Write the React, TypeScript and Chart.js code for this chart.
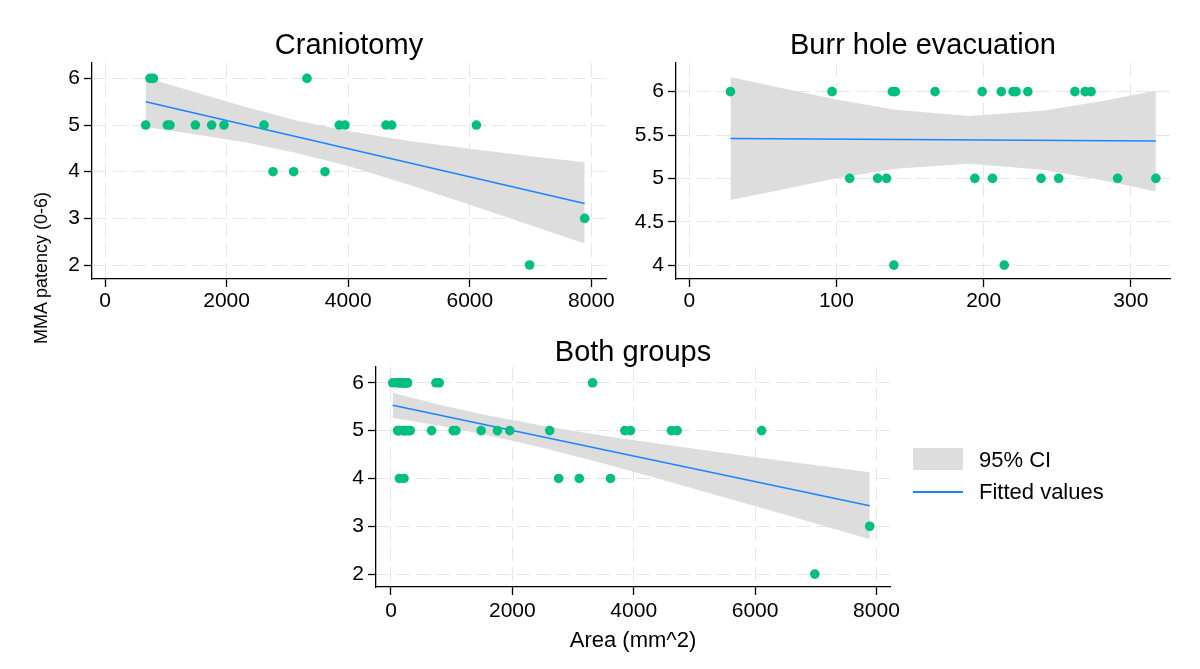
import React, { useEffect, useRef } from 'react';
import { Chart, registerables } from 'chart.js';

Chart.register(...registerables);

const FONT = 'Arial, "Liberation Sans", Helvetica, sans-serif';

// ---------- Data ----------
// Craniotomy group
const craniArea = [740, 795, 3322, 669, 1025, 1069, 1486, 1754, 1957, 2615, 3854, 3947, 4622, 4715, 6108, 2763, 3103, 3618, 7889, 6984];
const craniPatency = [6, 6, 6, 5, 5, 5, 5, 5, 5, 5, 5, 5, 5, 5, 5, 4, 4, 4, 3, 2];
const craniFitX = [669, 7889];
const craniFitY = [5.5, 3.32];
const craniBandX = [669, 1500, 2300, 3150, 4000, 5000, 6000, 7000, 7889];
const craniBandLow = [4.96, 4.8, 4.63, 4.4, 4.12, 3.72, 3.29, 2.85, 2.46];
const craniBandHigh = [6.02, 5.7, 5.39, 5.1, 4.87, 4.66, 4.49, 4.33, 4.2];

// Burr hole evacuation group
const burrArea = [28, 97, 138, 140, 167, 199, 212, 220, 222, 230, 262, 269, 273, 109, 128, 134, 194, 206, 239, 251, 291, 317, 139, 214];
const burrPatency = [6, 6, 6, 6, 6, 6, 6, 6, 6, 6, 6, 6, 6, 5, 5, 5, 5, 5, 5, 5, 5, 5, 4, 4];
const burrFitX = [28, 317];
const burrFitY = [5.46, 5.43];
const burrBandX = [28, 60, 100, 140, 190, 240, 280, 317];
const burrBandLow = [4.75, 4.86, 5.0, 5.11, 5.17, 5.1, 4.98, 4.85];
const burrBandHigh = [6.17, 6.05, 5.91, 5.79, 5.72, 5.78, 5.89, 6.01];

// Both groups (union of the two samples)
const bothArea = [...craniArea, ...burrArea];
const bothPatency = [...craniPatency, ...burrPatency];
const bothFitX = [28, 7889];
const bothFitY = [5.53, 3.43];
const bothBandX = [28, 800, 1539, 2500, 3500, 4500, 5500, 6500, 7889];
const bothBandLow = [5.27, 5.1, 4.92, 4.64, 4.31, 3.96, 3.6, 3.24, 2.73];
const bothBandHigh = [5.79, 5.54, 5.33, 5.1, 4.89, 4.71, 4.53, 4.36, 4.13];

// Tick values
const areaTicks = [0, 2000, 4000, 6000, 8000];
const burrAreaTicks = [0, 100, 200, 300];
const patencyTicks = [2, 3, 4, 5, 6];
const burrPatencyTicks = [4, 4.5, 5, 5.5, 6];

const titles = ['Craniotomy', 'Burr hole evacuation', 'Both groups'];
const yAxisTitle = 'MMA patency (0-6)';
const xAxisTitle = 'Area (mm^2)';
const legendLabels = ['95% CI', 'Fitted values'];

const GREEN = '#00bf7f';
const BLUE = '#1a85ff';
const BAND = '#dddddd';
const GRID = '#e6e6e6';

const pts = (xs: number[], ys: number[]) => xs.map((x, i) => ({ x, y: ys[i] }));

type Spec = {
  title: string;
  area: number[];
  patency: number[];
  fitX: number[];
  fitY: number[];
  bandX: number[];
  bandLow: number[];
  bandHigh: number[];
  xTicks: number[];
  yTicks: number[];
  xMin: number;
  xMax: number;
  yMin: number;
  yMax: number;
  yAxisWidth: number;
  xAxisHeight: number;
  rightPad: number;
  titleTop: number;
  titleBottom: number;
  xTickPad: number;
  xTitle?: string;
};

function makeConfig(s: Spec): any {
  const tickFont = { size: 21, family: FONT };
  return {
    type: 'scatter',
    data: {
      datasets: [
        {
          type: 'scatter',
          data: pts(s.area, s.patency),
          pointRadius: 4.8,
          pointHoverRadius: 4.8,
          backgroundColor: GREEN,
          borderWidth: 0,
        },
        {
          type: 'line',
          data: pts(s.fitX, s.fitY),
          borderColor: BLUE,
          borderWidth: 1.6,
          pointRadius: 0,
          showLine: true,
          fill: false,
          tension: 0,
        },
        {
          type: 'line',
          data: pts(s.bandX, s.bandLow),
          borderColor: 'rgba(0,0,0,0)',
          borderWidth: 1,
          pointRadius: 0,
          showLine: true,
          fill: false,
          tension: 0,
        },
        {
          type: 'line',
          data: pts(s.bandX, s.bandHigh),
          borderColor: 'rgba(0,0,0,0)',
          backgroundColor: BAND,
          borderWidth: 1,
          pointRadius: 0,
          showLine: true,
          fill: '-1',
          tension: 0,
        },
      ],
    },
    options: {
      responsive: false,
      animation: false,
      events: [],
      layout: { padding: { left: 0, right: s.rightPad, top: 0, bottom: 0 } },
      plugins: {
        legend: { display: false },
        tooltip: { enabled: false },
        title: {
          display: true,
          text: s.title,
          fullSize: false,
          color: '#000',
          font: { size: 29, family: FONT, weight: 'normal', lineHeight: 1 },
          padding: { top: s.titleTop, bottom: s.titleBottom },
        },
      },
      scales: {
        x: {
          type: 'linear',
          position: 'bottom',
          min: s.xMin,
          max: s.xMax,
          afterBuildTicks: (sc: any) => {
            sc.ticks = s.xTicks.map((v) => ({ value: v }));
          },
          afterFit: (sc: any) => {
            sc.height = s.xAxisHeight;
          },
          ticks: {
            font: tickFont,
            color: '#000',
            padding: s.xTickPad,
            maxRotation: 0,
            autoSkip: false,
            callback: (v: any) => String(v),
          },
          grid: {
            color: GRID,
            lineWidth: 1,
            tickColor: '#000',
            tickLength: 8,
            tickWidth: 1.3,
            tickBorderDash: [],
          },
          border: { display: true, color: '#000', width: 1.3, dash: [14, 6] },
          title: s.xTitle
            ? {
                display: true,
                text: s.xTitle,
                color: '#000',
                font: { size: 22, family: FONT },
                padding: { top: 0, bottom: 5.8 },
              }
            : { display: false },
        },
        y: {
          type: 'linear',
          position: 'left',
          min: s.yMin,
          max: s.yMax,
          afterBuildTicks: (sc: any) => {
            sc.ticks = s.yTicks.map((v) => ({ value: v }));
          },
          afterFit: (sc: any) => {
            sc.width = s.yAxisWidth;
          },
          ticks: {
            font: tickFont,
            color: '#000',
            padding: 4,
            autoSkip: false,
            callback: (v: any) => String(v),
          },
          grid: {
            color: GRID,
            lineWidth: 1,
            tickColor: '#000',
            tickLength: 8,
            tickWidth: 1.3,
            tickBorderDash: [],
          },
          border: { display: true, color: '#000', width: 1.3, dash: [14, 6] },
        },
      },
    },
  };
}

function Panel(props: { spec: Spec; left: number; top: number; width: number; height: number }) {
  const ref = useRef<HTMLCanvasElement | null>(null);
  useEffect(() => {
    if (!ref.current) return;
    const chart = new Chart(ref.current, makeConfig(props.spec));
    return () => chart.destroy();
  }, []);
  return (
    <canvas
      ref={ref}
      width={props.width}
      height={props.height}
      style={{ position: 'absolute', left: props.left, top: props.top, width: props.width, height: props.height }}
    />
  );
}

const craniSpec: Spec = {
  title: titles[0],
  area: craniArea,
  patency: craniPatency,
  fitX: craniFitX,
  fitY: craniFitY,
  bandX: craniBandX,
  bandLow: craniBandLow,
  bandHigh: craniBandHigh,
  xTicks: areaTicks,
  yTicks: patencyTicks,
  xMin: -214,
  xMax: 8240,
  yMin: 1.7,
  yMax: 6.33,
  yAxisWidth: 52,
  xAxisHeight: 41,
  rightPad: 14,
  titleTop: 31.5,
  titleBottom: 2.5,
  xTickPad: 2,
};

const burrSpec: Spec = {
  title: titles[1],
  area: burrArea,
  patency: burrPatency,
  fitX: burrFitX,
  fitY: burrFitY,
  bandX: burrBandX,
  bandLow: burrBandLow,
  bandHigh: burrBandHigh,
  xTicks: burrAreaTicks,
  yTicks: burrPatencyTicks,
  xMin: -9,
  xMax: 326.6,
  yMin: 3.84,
  yMax: 6.33,
  yAxisWidth: 56,
  xAxisHeight: 41,
  rightPad: 20,
  titleTop: 31.5,
  titleBottom: 2.5,
  xTickPad: 2,
};

const bothSpec: Spec = {
  title: titles[2],
  area: bothArea,
  patency: bothPatency,
  fitX: bothFitX,
  fitY: bothFitY,
  bandX: bothBandX,
  bandLow: bothBandLow,
  bandHigh: bothBandHigh,
  xTicks: areaTicks,
  yTicks: patencyTicks,
  xMin: -247,
  xMax: 8223,
  yMin: 1.73,
  yMax: 6.33,
  yAxisWidth: 56,
  xAxisHeight: 73,
  rightPad: 30,
  titleTop: 38.5,
  titleBottom: -0.5,
  xTickPad: 4,
  xTitle: xAxisTitle,
};

export default function App() {
  return (
    <div
      style={{
        position: 'fixed',
        left: 0,
        top: 0,
        width: 1200,
        height: 669,
        background: '#fff',
        overflow: 'hidden',
        fontFamily: FONT,
      }}
    >
      <Panel spec={craniSpec} left={40} top={0} width={580} height={320} />
      <Panel spec={burrSpec} left={620} top={0} width={570} height={320} />
      <Panel spec={bothSpec} left={320} top={300} width={600} height={360} />
      <div
        style={{
          position: 'absolute',
          left: 41,
          top: 268,
          transform: 'translate(-50%, -50%) rotate(-90deg)',
          whiteSpace: 'nowrap',
          fontSize: 18,
          lineHeight: '20px',
          color: '#000',
        }}
      >
        {yAxisTitle}
      </div>
      <div style={{ position: 'absolute', left: 913, top: 448, width: 50, height: 22, background: BAND }} />
      <div
        style={{
          position: 'absolute',
          left: 979,
          top: 448,
          height: 24,
          lineHeight: '24px',
          fontSize: 22,
          color: '#000',
          whiteSpace: 'nowrap',
        }}
      >
        {legendLabels[0]}
      </div>
      <div style={{ position: 'absolute', left: 913, top: 491, width: 50, height: 1.6, background: BLUE }} />
      <div
        style={{
          position: 'absolute',
          left: 979,
          top: 480,
          height: 24,
          lineHeight: '24px',
          fontSize: 22,
          color: '#000',
          whiteSpace: 'nowrap',
        }}
      >
        {legendLabels[1]}
      </div>
    </div>
  );
}
